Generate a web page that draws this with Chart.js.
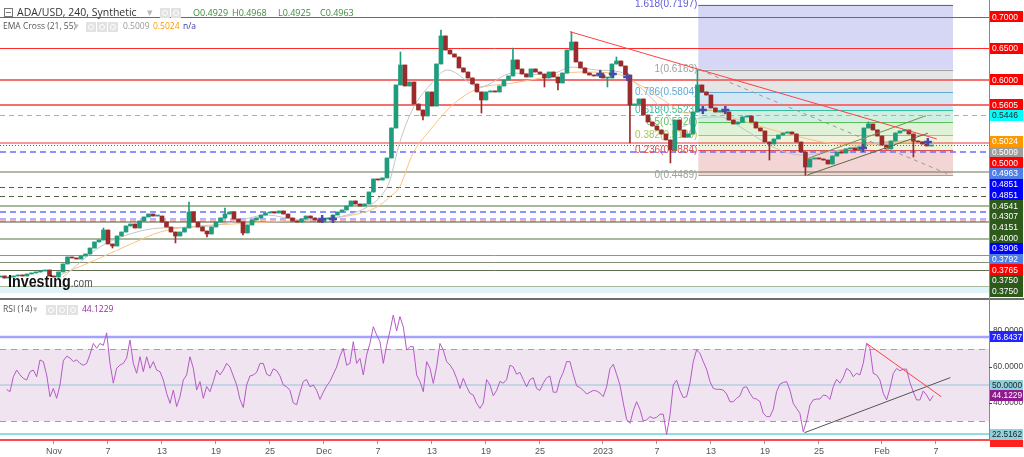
<!DOCTYPE html>
<html>
<head>
<meta charset="utf-8">
<script src="https://cdn.jsdelivr.net/npm/chart.js@4.4.0/dist/chart.umd.min.js"></script>
<style>
  html, body { margin: 0; padding: 0; background: #fff; overflow: hidden; }
  #wrap { width: 1024px; height: 457px; position: relative; }
</style>
</head>
<body>
<div id="wrap"><canvas id="chart" width="1024" height="457"></canvas></div>
<script>
// ADA/USD 240 (4h) chart, resampled to 12h candles
// x values are days counted from Nov 1 2022

// candles
var firstCandleDay = -6;
var candleStepDay = 0.5;
var firstOpen = 0.2873;
var closes = [
  0.2889, 0.2857, 0.2873, 0.2889, 0.2905, 0.2889, 0.2921, 0.2937, 0.2953, 0.2968,
  0.2984, 0.2889, 0.2873, 0.2953, 0.3080, 0.3191, 0.3175, 0.3159, 0.3207, 0.3238,
  0.3333, 0.3429, 0.3460, 0.3619, 0.3397, 0.3365, 0.3524, 0.3587, 0.3683, 0.3714,
  0.3651, 0.3762, 0.3826, 0.3873, 0.3841, 0.3841, 0.3746, 0.3667, 0.3587, 0.3524,
  0.3587, 0.3651, 0.3905, 0.3746, 0.3667, 0.3603, 0.3556, 0.3667, 0.3746, 0.3810,
  0.3873, 0.3905, 0.3794, 0.3746, 0.3572, 0.3699, 0.3778, 0.3810, 0.3857, 0.3889,
  0.3905, 0.3889, 0.3921, 0.3873, 0.3810, 0.3762, 0.3746, 0.3794, 0.3841, 0.3810,
  0.3778, 0.3746, 0.3794, 0.3810, 0.3857, 0.3905, 0.3937, 0.4000, 0.4080, 0.4032,
  0.4000, 0.4032, 0.4222, 0.4429, 0.4413, 0.4445, 0.4762, 0.5238, 0.5921, 0.6238,
  0.5905, 0.5968, 0.5619, 0.5524, 0.5429, 0.5810, 0.5587, 0.6254, 0.6699, 0.6476,
  0.6413, 0.6365, 0.6191, 0.6127, 0.6032, 0.5937, 0.5810, 0.5683, 0.5810, 0.5826,
  0.5810, 0.5905, 0.6000, 0.6064, 0.6318, 0.6175, 0.6095, 0.6048, 0.6175, 0.6127,
  0.6095, 0.6032, 0.6127, 0.6048, 0.5953, 0.6111, 0.6476, 0.6603, 0.6286, 0.6191,
  0.6111, 0.6080, 0.6064, 0.6080, 0.6032, 0.6032, 0.6254, 0.6302, 0.6222, 0.6080,
  0.5603, 0.5619, 0.5699, 0.5445, 0.5333, 0.5270, 0.5207, 0.5143, 0.5048, 0.4889,
  0.5365, 0.5207, 0.5095, 0.5143, 0.5492, 0.5921, 0.5810, 0.5762, 0.5556, 0.5492,
  0.5508, 0.5492, 0.5365, 0.5302, 0.5333, 0.5413, 0.5429, 0.5333, 0.5238, 0.5191,
  0.5016, 0.4984, 0.5064, 0.5127, 0.5159, 0.5175, 0.5143, 0.5016, 0.4857, 0.4619,
  0.4746, 0.4762, 0.4746, 0.4730, 0.4667, 0.4794, 0.4857, 0.4841, 0.4905, 0.4921,
  0.4889, 0.4937, 0.5238, 0.5302, 0.5207, 0.5111, 0.4968, 0.4905, 0.5032, 0.5159,
  0.5191, 0.5207, 0.5143, 0.5032, 0.5016, 0.4984, 0.4953, 0.4963
];
// only the wicks that stick out visibly (candle index -> price)
var wickHighs = { 23: 0.3651, 42: 0.4064, 50: 0.3968, 89: 0.6445, 98: 0.6794, 114: 0.6508,
  127: 0.6762, 137: 0.6365, 155: 0.6163, 193: 0.5333 };
var wickLows = { 25: 0.3333, 39: 0.3413, 46: 0.3508, 54: 0.3540, 94: 0.5365, 107: 0.5476,
  121: 0.5889, 124: 0.5841, 135: 0.5889, 140: 0.5000, 149: 0.4683, 171: 0.4730, 179: 0.4489, 203: 0.4778 };

// EMA cross (21, 55)
var ema21Days = [1.0, 5.1, 8.8, 11.8, 16.2, 19.9, 23.7, 27.3, 31.0, 34.8, 36.6, 37.3, 38.4, 39.9, 41.8, 43.7,
  47.3, 51.0, 54.8, 57.7, 60.3, 62.9, 65.1, 67.7, 69.6, 71.8, 74.0, 76.8, 79.9, 82.9, 85.4, 88.4, 91.0, 94.8, 97.7];
var ema21 = [0.2873, 0.3349, 0.3571, 0.3651, 0.3667, 0.3746, 0.3857, 0.3778, 0.3810, 0.3984, 0.4206, 0.4397, 0.5000, 0.5550, 0.5921, 0.6159,
  0.5889, 0.6111, 0.6080, 0.6206, 0.6159, 0.6127, 0.5889, 0.5524, 0.5254, 0.5397, 0.5413, 0.5207, 0.4937, 0.4810, 0.4841, 0.4921, 0.5000, 0.5032, 0.5009];
var ema55Days = [0.7, 5.1, 8.8, 11.8, 14.8, 19.9, 23.7, 29.6, 33.2, 35.9, 37.3, 38.4, 39.9, 41.8, 43.7, 45.4,
  47.3, 51.0, 54.8, 58.4, 62.1, 65.1, 67.7, 70.3, 72.6, 76.2, 79.9, 82.9, 85.4, 89.2, 92.9, 97.7];
var ema55 = [0.2905, 0.3175, 0.3413, 0.3587, 0.3667, 0.3714, 0.3746, 0.3794, 0.3857, 0.3984, 0.4143, 0.4302, 0.4841, 0.5206, 0.5524, 0.5730,
  0.5873, 0.5952, 0.6048, 0.6127, 0.6111, 0.5921, 0.5683, 0.5476, 0.5524, 0.5365, 0.5206, 0.5095, 0.5016, 0.4968, 0.5000, 0.5024];

// RSI (14)
var rsiFirstDay = -5.259;
var rsiStepDay = 0.37037;
var rsiValues = [
  47.5, 46.3, 54.6, 58.3, 55.6, 53.7, 52.8, 57.4, 58.3, 54.6,
  63.9, 63.0, 55.6, 43.5, 48.1, 42.6, 50, 63.5, 66, 65,
  63, 64, 62, 61, 62, 67, 73.1, 70.4, 73.1, 72,
  79, 62, 51, 59.3, 61.1, 62, 65, 75, 62, 56.5,
  65.7, 57.4, 65.7, 59.3, 63, 58.3, 57.4, 52.8, 45.4, 39.8,
  47.2, 38, 43.5, 52.8, 55.6, 65.7, 59.3, 47.2, 51.9, 42.6,
  49.1, 46.3, 51.9, 58.3, 55.6, 58.3, 62, 60, 55, 50,
  42, 37.5, 50, 55, 55.6, 57, 62, 62, 56, 55,
  59, 58, 55, 50, 49, 47, 40, 39, 46, 52,
  53, 49, 50, 47, 42, 46, 49.5, 52, 56, 60,
  66, 70.4, 61, 62, 74.1, 62, 64.8, 55.6, 66.7, 73.1,
  82.4, 77.8, 74.1, 62, 72, 80, 88.9, 80, 88, 82.4,
  69.4, 71.3, 71.3, 55.6, 51.9, 46.3, 63, 59.3, 50.9, 60.2,
  73.1, 69.4, 63, 61.1, 58.3, 53.7, 48.1, 53.7, 49.1, 45.4,
  44.4, 39.8, 37,
  40, 53, 50, 44, 47, 52, 51, 53, 61, 60,
  56, 57, 53, 49, 53, 54, 48, 47, 51, 54,
  55, 46, 46, 53, 57, 63, 63, 56, 49.5, 48.6,
  47, 45, 46, 47, 46.7, 45.5, 43.5, 49, 59, 61.5,
  56, 50, 40, 31, 28.7, 35.7, 40.7, 36.5, 30, 30.6,
  32.5, 31.5, 32, 33.8, 33.8, 22.5, 33, 50, 52.7, 47,
  43, 43.5, 51, 63, 69.5, 67.6, 63, 58.8, 52, 48.1,
  47.6, 47.6, 47.2, 45, 40.7, 40.7, 42.6, 44, 48.6, 49,
  45.4, 42.6, 42.2, 40.8, 34.3, 32.4, 32.4, 36.5, 46.3, 50.5,
  51.4, 51.9, 47.2, 39.8, 37, 34.2, 24, 30, 38.9, 41.7,
  42.2, 42.2, 44.4, 44, 42, 49, 53.2, 51, 54.2, 59.2,
  57.9, 54.6, 56.5, 55.6, 62, 73.1, 70.4, 56.5, 55.6, 52.8,
  45.4, 41.7, 48, 56.4, 59.2, 57.9, 58.8, 58.8, 51.4, 46.3,
  41.7, 41.7, 46.7, 44.4, 41.2, 44.1
];

// time axis
var tickDays = [0, 6, 12, 18, 24, 30, 36, 42, 48, 54, 61, 67, 73, 79, 85, 92, 98];
var tickLabels = ['Nov', '7', '13', '19', '25', 'Dec', '7', '13', '19', '25', '2023', '7', '13', '19', '25', 'Feb', '7'];

// fibonacci retracement
var fibStartDay = 71.6;
var fibEndDay = 99.9;
var fibRatios = ['1.618', '1', '0.786', '0.618', '0.5', '0.382', '0.236', '0'];
var fibPrices = [0.7197, 0.6163, 0.5804, 0.5523, 0.5326, 0.5129, 0.4884, 0.4489];

// horizontal levels on the price pane
var hLevels = [0.7, 0.65, 0.6, 0.5605, 0.5446, 0.5, 0.4963, 0.4851, 0.4541, 0.4307, 0.4151, 0.4,
  0.3906, 0.3792, 0.3765, 0.375, 0.3476, 0.3222, 0.3111, 0.2984, 0.2714, 0.2665];
// price axis tags
var tagValues = [0.7, 0.65, 0.6, 0.5605, 0.5446, 0.5024, 0.5009, 0.5, 0.4963, 0.4851, 0.4851, 0.4541,
  0.4307, 0.4151, 0.4, 0.3906, 0.3792, 0.3765, 0.375, 0.375];

// RSI pane levels
var rsiTicks = [80, 60, 40];
var rsiLevels = [76.8437, 50, 22.5162, 19.4];
var rsiTagValues = [76.8437, 50, 44.1229, 22.5162];

// trend lines drawn on the chart
var priceTrend = [{ x: 57.33, y: 0.6767 }, { x: 98.1, y: 0.5064 }];
var fibDiagonal = [{ x: 71.8, y: 0.6159 }, { x: 99.6, y: 0.4492 }];
var channelTop = [{ x: 83.8, y: 0.4757 }, { x: 96.9, y: 0.5433 }];
var channelBottom = [{ x: 83.7, y: 0.4492 }, { x: 97.1, y: 0.5154 }];
var rsiTrendDown = [{ x: 90.3, y: 73.1 }, { x: 98.6, y: 43.5 }];
var rsiTrendUp = [{ x: 83.4, y: 23.5 }, { x: 99.6, y: 54.1 }];
// blue cross markers
var markDays = [29.8, 31.0, 60.7, 62.1, 63.7, 72.1, 74.6, 89.9, 97.1];
var markPrices = [0.3794, 0.3794, 0.6095, 0.6095, 0.6048, 0.5524, 0.5524, 0.4921, 0.5016];

// ---- styles (kept apart from the data) ----
var UP = '#1f9c7c', DOWN = '#9b2b2b';
var fibColors = ['#5b5bd6', '#a0a0a0', '#5fa8d8', '#35bfa0', '#5cbf5c', '#a6c84e', '#e05050', '#a0a0a0'];
var fibFills = ['#d6d6f5', '#e5e5e5', '#d2e7f3', '#d0efe3', '#dff1d6', '#eef3dc', '#f3d5d5'];
var hStyles = [
  ['#ff2a2a', 1, []], ['#ff2a2a', 1, []], ['#f27070', 2, []], ['#f27070', 2, []], ['#3fdcdc', 1, [5, 4]],
  ['#e8383a', 1.2, []], ['#3a5cff', 1, [1, 2]], ['#6b6bff', 1.3, [6, 4]], ['#62764a', 1.2, []],
  ['#4e5e3e', 1, [5, 4]], ['#4e5e3e', 1, [5, 4]], ['#a9b99c', 2, []], ['#6b6bff', 1.3, [6, 4]],
  ['#9a9aff', 1.3, [6, 4]], ['#ff9a9a', 1.3, [6, 4]], ['#4a5a3a', 1.2, []], ['#aab99e', 2, []],
  ['#8a9a7c', 1, []], ['#7f8f70', 1, []], ['#5e6e50', 1, []], ['#aab99e', 2, []], ['#e0f3f6', 6, []]
];
var tagStyles = [
  ['#ff0000', '#fff'], ['#ff0000', '#fff'], ['#ff0000', '#fff'], ['#ff0000', '#fff'], ['#00ffff', '#222'],
  ['#ff9800', '#fff'], ['#9e9e9e', '#fff'], ['#ff0000', '#fff'], ['#4f7fe6', '#fff'], ['#0000ff', '#fff'],
  ['#0000ff', '#fff'], ['#2d5a1b', '#fff'], ['#2d5a1b', '#fff'], ['#2d5a1b', '#fff'], ['#2d5a1b', '#fff'],
  ['#0000ff', '#fff'], ['#4f7fe6', '#fff'], ['#ff0000', '#fff'], ['#2d5a1b', '#fff'], ['#2d5a1b', '#fff']
];
var rsiLevelStyles = [['#a3a3ff', 2.5], ['#c6d3e6', 2], ['#92dbe3', 2], ['#ff4a4a', 2]];
var rsiTagStyles = [['#2323ff', '#fff'], ['#8fd0dc', '#222'], ['#8e1a8e', '#fff'], ['#8fd0dc', '#222']];
var TAG_FONT = '8.5px "Liberation Sans", Arial, sans-serif';

// build candle bars
var bodyData = [], wickData = [], candleColors = [];
closes.forEach(function(c, i) {
  var o = i === 0 ? firstOpen : closes[i - 1];
  var d = firstCandleDay + i * candleStepDay;
  var hi = wickHighs[i] !== undefined ? wickHighs[i] : Math.max(o, c);
  var lo = wickLows[i] !== undefined ? wickLows[i] : Math.min(o, c);
  bodyData.push({ x: d, y: [o, c] });
  wickData.push({ x: d, y: [lo, hi] });
  candleColors.push(c >= o ? UP : DOWN);
});

function pairs(xs, ys) {
  return xs.map(function(x, i) { return { x: x, y: ys[i] }; });
}
var rsiData = rsiValues.map(function(v, i) { return { x: rsiFirstDay + i * rsiStepDay, y: v }; });

function hline(c, x0, x1, y, color, width, dash) {
  c.beginPath();
  c.strokeStyle = color;
  c.lineWidth = width;
  c.setLineDash(dash || []);
  var yy = width % 2 === 1 ? Math.round(y) + 0.5 : Math.round(y);
  c.moveTo(x0, yy);
  c.lineTo(x1, yy);
  c.stroke();
  c.setLineDash([]);
}

function tag(c, x, y, text, bg, fg) {
  c.fillStyle = bg;
  c.fillRect(x, Math.round(y - 5.5), 33, 11);
  c.fillStyle = fg;
  c.font = TAG_FONT;
  c.textAlign = 'left';
  c.textBaseline = 'middle';
  c.fillText(text, x + 2, y + 0.5, 30);
}

function icons(c, x, y, n) {
  for (var k = 0; k < n; k++) {
    c.fillStyle = '#e2e2e2';
    c.fillRect(x + k * 11, y - 5, 10, 10);
    c.strokeStyle = '#fff';
    c.lineWidth = 1;
    c.beginPath();
    c.arc(x + k * 11 + 5, y, 2.5, 0, Math.PI * 2);
    c.stroke();
  }
}

// background decorations: fib zones, levels, rsi band
var paneDecor = {
  id: 'paneDecor',
  beforeDatasetsDraw: function(chart) {
    var c = chart.ctx, area = chart.chartArea;
    var xs = chart.scales.x, ys = chart.scales.y, yr = chart.scales.yRsi;
    c.save();
    c.beginPath();
    c.rect(area.left, area.top, area.right - area.left, area.bottom - area.top);
    c.clip();

    // rsi band
    var b70 = yr.getPixelForValue(70), b30 = yr.getPixelForValue(30);
    c.fillStyle = '#f1e4f1';
    c.fillRect(area.left, b70, area.right - area.left, b30 - b70);
    hline(c, area.left, area.right, b70, '#a0a0a0', 1, [6, 5]);
    hline(c, area.left, area.right, b30, '#a0a0a0', 1, [6, 5]);
    rsiLevels.forEach(function(v, k) {
      hline(c, area.left, area.right, yr.getPixelForValue(v), rsiLevelStyles[k][0], rsiLevelStyles[k][1]);
    });

    // fib zones
    var fx0 = xs.getPixelForValue(fibStartDay), fx1 = xs.getPixelForValue(fibEndDay);
    for (var k = 0; k < fibPrices.length - 1; k++) {
      var ya = ys.getPixelForValue(fibPrices[k]), yb = ys.getPixelForValue(fibPrices[k + 1]);
      c.fillStyle = fibFills[k];
      c.fillRect(fx0, ya, fx1 - fx0, yb - ya);
    }

    // horizontal levels
    c.save();
    c.beginPath();
    c.rect(area.left, ys.top, area.right - area.left, ys.bottom - ys.top);
    c.clip();
    hLevels.forEach(function(p, k) {
      var s = hStyles[k];
      hline(c, area.left, area.right, ys.getPixelForValue(p), s[0], s[1], s[2]);
    });
    c.restore();

    // fib levels + labels
    c.font = '10px "Liberation Sans", Arial, sans-serif';
    c.textAlign = 'right';
    c.textBaseline = 'middle';
    fibPrices.forEach(function(p, k) {
      var y = ys.getPixelForValue(p);
      hline(c, fx0, fx1, y, fibColors[k], 1);
      c.fillStyle = fibColors[k];
      c.fillText(fibRatios[k] + '(' + p.toFixed(4) + ')', fx0 - 1, y);
    });
    c.restore();
  },
  afterDraw: function(chart) {
    var c = chart.ctx, area = chart.chartArea;
    var ys = chart.scales.y, yr = chart.scales.yRsi;
    var ax = area.right + 1;
    c.save();

    // pane separator and price axis line
    hline(c, 0, chart.width, ys.bottom, '#6e6e6e', 2);
    c.strokeStyle = '#8a8a8a';
    c.lineWidth = 1;
    c.beginPath();
    c.moveTo(Math.round(area.right) + 0.5, 0);
    c.lineTo(Math.round(area.right) + 0.5, area.bottom);
    c.stroke();

    // price tags, pushed down when they would overlap
    var last = -100;
    tagValues.forEach(function(v, k) {
      var y = Math.max(ys.getPixelForValue(v), last + 10.7);
      last = y;
      tag(c, ax, y, v.toFixed(4), tagStyles[k][0], tagStyles[k][1]);
    });

    // rsi plain ticks then tags
    c.font = TAG_FONT;
    c.textAlign = 'left';
    c.textBaseline = 'middle';
    rsiTicks.forEach(function(v) {
      c.fillStyle = '#444';
      c.fillText(v.toFixed(4), ax + 3, yr.getPixelForValue(v), 30);
      c.fillRect(area.right, yr.getPixelForValue(v), 3, 1);
    });
    rsiTagValues.forEach(function(v, k) {
      tag(c, ax, yr.getPixelForValue(v), v.toFixed(4), rsiTagStyles[k][0], rsiTagStyles[k][1]);
    });
    c.fillStyle = '#ff2020';
    c.fillRect(ax, area.bottom - 1, 33, 7);

    // header lines
    c.textBaseline = 'middle';
    c.textAlign = 'left';
    c.strokeStyle = '#777';
    c.lineWidth = 1;
    c.strokeRect(4.5, 8.5, 8, 8);
    c.beginPath(); c.moveTo(6, 12.5); c.lineTo(11, 12.5); c.stroke();
    c.font = '10.5px "Open Sans", sans-serif';
    c.fillStyle = '#333';
    c.fillText('ADA/USD, 240, Synthetic', 17, 13);
    c.fillStyle = '#bbb';
    c.fillText('\u25BE', 147, 13);
    icons(c, 160, 13, 2);
    c.font = '9px "Open Sans", sans-serif';
    c.fillStyle = '#3d8a3d';
    c.fillText('O' + '0.4929', 193, 13);
    c.fillText('H' + '0.4968', 232, 13);
    c.fillText('L' + '0.4925', 278, 13);
    c.fillText('C' + '0.4963', 320, 13);

    c.font = '8.5px "Open Sans", sans-serif';
    c.fillStyle = '#555';
    c.fillText('EMA Cross (21, 55)', 3, 27);
    c.fillStyle = '#bbb';
    c.fillText('\u25BE', 74, 27);
    icons(c, 86, 27, 3);
    c.fillStyle = '#999';
    c.fillText('0.5009', 123, 27);
    c.fillStyle = '#ff9800';
    c.fillText('0.5024', 153, 27);
    c.fillStyle = '#3a3aa0';
    c.fillText('n/a', 183, 27);

    var ry = yr.top + 11;
    c.fillStyle = '#555';
    c.fillText('RSI (14)', 3, ry);
    c.fillStyle = '#bbb';
    c.fillText('\u25BE', 33, ry);
    icons(c, 46, ry, 3);
    c.fillStyle = '#9b27a8';
    c.fillText('44.1229', 82, ry);

    // watermark
    c.save();
    c.translate(8, ys.bottom - 12);
    c.scale(0.84, 1);
    c.font = 'bold 17px "Liberation Sans", Arial, sans-serif';
    c.fillStyle = '#111';
    c.textBaseline = 'alphabetic';
    c.fillText('Investing', 0, 0);
    var w = c.measureText('Investing').width;
    c.font = '12px "Liberation Sans", Arial, sans-serif';
    c.fillStyle = '#555';
    c.fillText('.com', w, 0);
    c.restore();
    c.restore();
  }
};

var chart = new Chart(document.getElementById('chart').getContext('2d'), {
  type: 'bar',
  data: {
    datasets: [
      { type: 'line', data: priceTrend, yAxisID: 'y', borderColor: '#ff4040', borderWidth: 1, pointRadius: 0, order: 0 },
      { type: 'line', data: fibDiagonal, yAxisID: 'y', borderColor: '#9a9a9a', borderWidth: 1, borderDash: [4, 4], pointRadius: 0, order: 0 },
      { type: 'line', data: channelTop, yAxisID: 'y', borderColor: '#7a8c52', borderWidth: 1, pointRadius: 0, order: 0 },
      { type: 'line', data: channelBottom, yAxisID: 'y', borderColor: '#5e6a3e', borderWidth: 1, pointRadius: 0, order: 0 },
      { type: 'line', data: rsiTrendDown, yAxisID: 'yRsi', borderColor: '#ff4040', borderWidth: 1, pointRadius: 0, order: 0 },
      { type: 'line', data: rsiTrendUp, yAxisID: 'yRsi', borderColor: '#555', borderWidth: 1, pointRadius: 0, order: 0 },
      { type: 'scatter', data: pairs(markDays, markPrices), yAxisID: 'y', pointStyle: 'cross', pointRadius: 4,
        borderColor: '#4a4aa8', borderWidth: 2.5, order: 1 },
      { type: 'bar', data: bodyData, yAxisID: 'y', backgroundColor: candleColors, barThickness: 4,
        minBarLength: 1, grouped: false, order: 2 },
      { type: 'bar', data: wickData, yAxisID: 'y', backgroundColor: candleColors, barThickness: 1,
        grouped: false, order: 3 },
      { type: 'line', data: pairs(ema21Days, ema21), yAxisID: 'y', borderColor: '#c4c4c4', borderWidth: 1,
        pointRadius: 0, cubicInterpolationMode: 'monotone', order: 4 },
      { type: 'line', data: pairs(ema55Days, ema55), yAxisID: 'y', borderColor: '#fbc27e', borderWidth: 1,
        pointRadius: 0, cubicInterpolationMode: 'monotone', order: 4 },
      { type: 'line', data: rsiData, yAxisID: 'yRsi', borderColor: '#b35cc4', borderWidth: 1, pointRadius: 0, order: 4 }
    ]
  },
  options: {
    responsive: false,
    animation: false,
    devicePixelRatio: 1,
    layout: { padding: 0, autoPadding: false },
    plugins: { legend: { display: false }, tooltip: { enabled: false } },
    scales: {
      x: {
        type: 'linear', position: 'bottom', min: -6, max: 103.9, offset: false,
        grid: { display: true, offset: false, drawOnChartArea: false, drawTicks: true, tickLength: 3, color: '#999' },
        border: { display: false },
        ticks: {
          autoSkip: false, maxRotation: 0, padding: 2, color: '#555',
          font: { size: 9, family: '"Liberation Sans", Arial, sans-serif' },
          callback: function(v) { var k = tickDays.indexOf(v); return k >= 0 ? tickLabels[k] : ''; }
        },
        afterBuildTicks: function(s) { s.ticks = tickDays.map(function(d) { return { value: d }; }); },
        afterFit: function(s) { s.height = 16; s.paddingLeft = 0; s.paddingRight = 0; }
      },
      y: {
        type: 'linear', position: 'right', stack: 'panes', stackWeight: 299,
        min: 0.25238, max: 0.72698,
        grid: { display: false }, border: { display: false }, ticks: { display: false },
        afterFit: function(s) { s.width = 35; }
      },
      yRsi: {
        type: 'linear', position: 'right', stack: 'panes', stackWeight: 142,
        min: 18.89, max: 97.78,
        grid: { display: false }, border: { display: false }, ticks: { display: false },
        afterFit: function(s) { s.width = 35; }
      }
    }
  },
  plugins: [paneDecor]
});
</script>
</body>
</html>
